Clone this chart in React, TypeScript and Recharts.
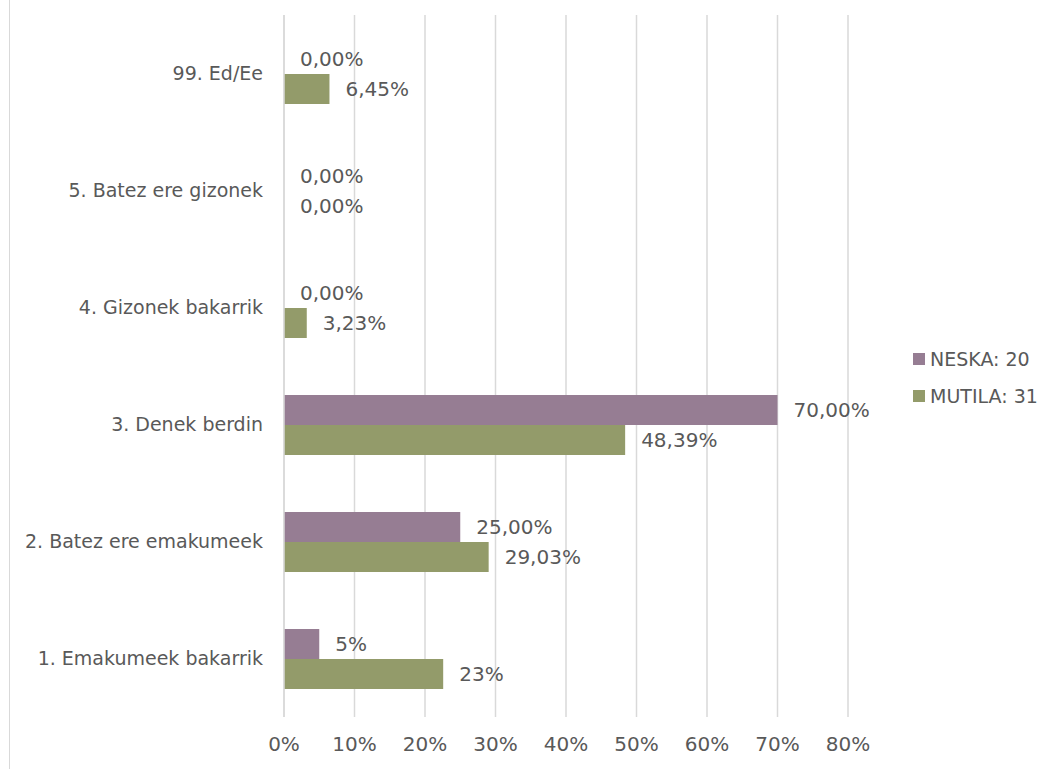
import React from "react";
import {
  BarChart,
  Bar,
  XAxis,
  YAxis,
  CartesianGrid,
  LabelList,
} from "recharts";

const categories = [
  "99. Ed/Ee",
  "5. Batez ere gizonek",
  "4. Gizonek bakarrik",
  "3. Denek berdin",
  "2. Batez ere emakumeek",
  "1. Emakumeek bakarrik",
];
const neskaValues = [0, 0, 0, 0.7, 0.25, 0.05];
const mutilaValues = [0.0645, 0, 0.0323, 0.4839, 0.2903, 0.2258];
const neskaLabels = ["0,00%", "0,00%", "0,00%", "70,00%", "25,00%", "5%"];
const mutilaLabels = ["6,45%", "0,00%", "3,23%", "48,39%", "29,03%", "23%"];
const xTicks = [0, 0.1, 0.2, 0.3, 0.4, 0.5, 0.6, 0.7, 0.8];
const seriesNames = ["NESKA: 20", "MUTILA: 31"];

const PURPLE = "#967D93";
const GREEN = "#939B6A";
const TEXT = "#595959";
const GRID = "#D9D9D9";
const FONT = "'DejaVu Sans', sans-serif";
const FS = 19;
const NUM_FS = 20;

const data = categories.map((c, i) => ({
  cat: c,
  neska: neskaValues[i],
  mutila: mutilaValues[i],
  neskaLabel: neskaLabels[i],
  mutilaLabel: mutilaLabels[i],
}));

const renderLabel = (props: any) => {
  const { x, y, width, height, value } = props;
  return (
    <text
      x={Number(x) + Number(width) + 16}
      y={Number(y) + Number(height) / 2}
      dominantBaseline="central"
      fill={TEXT}
      fontSize={NUM_FS}
      fontFamily={FONT}
    >
      {value}
    </text>
  );
};

const LegendBox = () => (
  <div
    style={{
      position: "absolute",
      left: 913,
      top: 340,
      fontFamily: FONT,
      fontSize: FS,
      color: TEXT,
    }}
  >
    {[PURPLE, GREEN].map((c, i) => (
      <div key={i} style={{ display: "flex", alignItems: "center", height: 37 }}>
        <span
          style={{
            display: "inline-block",
            width: 12,
            height: 12,
            background: c,
            marginRight: 5,
          }}
        />
        <span>{seriesNames[i]}</span>
      </div>
    ))}
  </div>
);

export default function App() {
  return (
    <div
      style={{
        position: "absolute",
        left: 0,
        top: 0,
        width: 1054,
        height: 769,
        background: "#fff",
        overflow: "hidden",
      }}
    >
      <div
        style={{
          position: "absolute",
          left: 9,
          top: -2,
          width: 1200,
          height: 800,
          borderLeft: `1.5px solid ${GRID}`,
        }}
      />
      <BarChart
        width={1054}
        height={769}
        data={data}
        layout="vertical"
        margin={{ top: 15, right: 206, bottom: 0, left: 0 }}
        barGap={0}
        barSize={30}
      >
        <CartesianGrid horizontal={false} stroke={GRID} strokeWidth={1.5} />
        <XAxis
          type="number"
          domain={[0, 0.8]}
          ticks={xTicks}
          tickFormatter={(v: number) => `${Math.round(v * 100)}%`}
          axisLine={false}
          tickLine={false}
          height={52}
          tickSize={0}
          tickMargin={20}
          tick={{ fill: TEXT, fontSize: NUM_FS, fontFamily: FONT }}
          interval={0}
        />
        <YAxis
          type="category"
          dataKey="cat"
          width={284}
          axisLine={{ stroke: GRID, strokeWidth: 1.5 }}
          tickLine={false}
          tickSize={0}
          tickMargin={21}
          tick={{ fill: TEXT, fontSize: FS, fontFamily: FONT }}
          interval={0}
        />
        <Bar
          dataKey="neska"
          name={seriesNames[0]}
          fill={PURPLE}
          minPointSize={0.001}
          isAnimationActive={false}
        >
          <LabelList dataKey="neskaLabel" content={renderLabel} />
        </Bar>
        <Bar
          dataKey="mutila"
          name={seriesNames[1]}
          fill={GREEN}
          minPointSize={0.001}
          isAnimationActive={false}
        >
          <LabelList dataKey="mutilaLabel" content={renderLabel} />
        </Bar>
      </BarChart>
      <LegendBox />
    </div>
  );
}
